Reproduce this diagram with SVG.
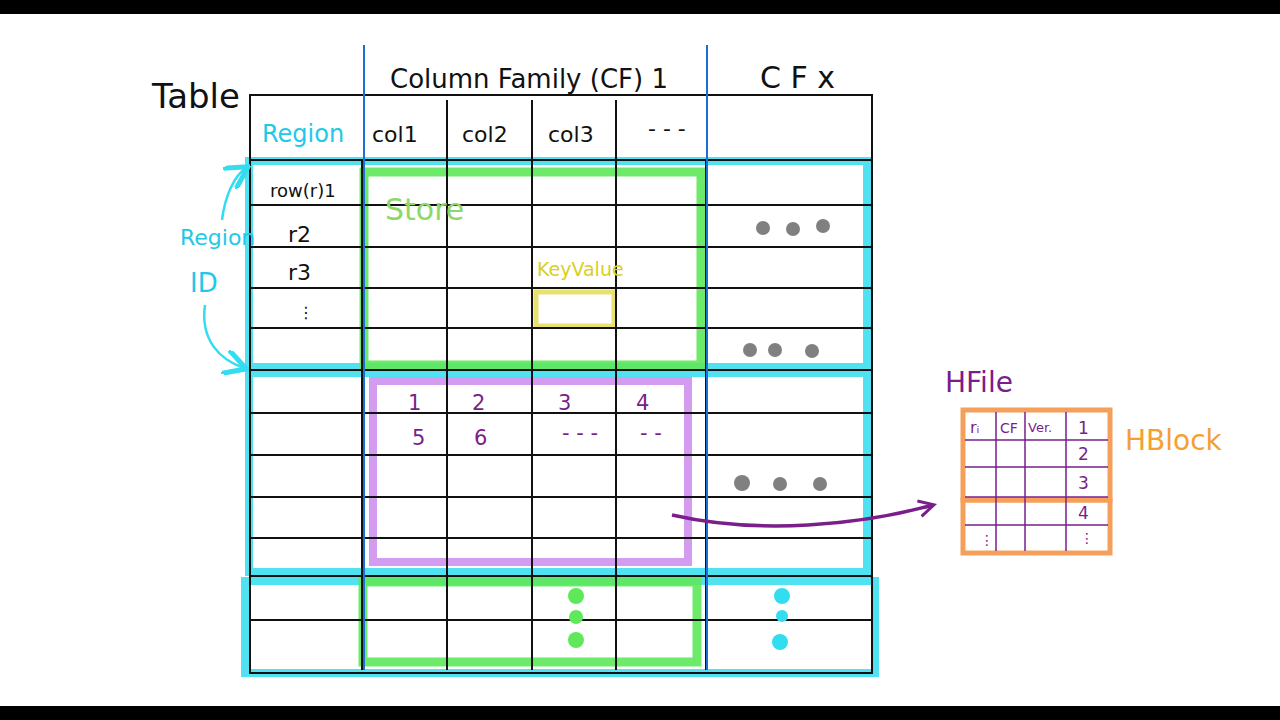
<svg xmlns="http://www.w3.org/2000/svg" width="1280" height="720" viewBox="0 0 1280 720">
<style>
text{font-family:"DejaVu Sans","Liberation Sans",sans-serif}
.k{fill:#111;font-size:22px}
.l{stroke:#111;stroke-width:2;fill:none}
.cy{fill:none;stroke:#33ddf0;stroke-width:8;opacity:.85}
.gr{fill:none;stroke:#5ee85a;stroke-width:9;opacity:.9}
.pu{fill:#7a1f8a;font-size:21px}
.gd{fill:#808080}
.hl{stroke:#7a1f8a;stroke-width:1.5}
</style>
<defs><marker id="ap" markerUnits="userSpaceOnUse" markerWidth="20" markerHeight="20" refX="16" refY="10" orient="auto"><path d="M2,2 L17,10 L2,18" fill="none" stroke="#7a1f8a" stroke-width="3"/></marker>
<marker id="ac" markerWidth="10" markerHeight="10" refX="8" refY="5" orient="auto"><path d="M0,0 L9,5 L0,10" fill="none" stroke="#33ddf0" stroke-width="2"/></marker></defs>
<rect width="1280" height="720" fill="#fff"/>
<rect width="1280" height="14" fill="#000"/>
<rect y="706" width="1280" height="14" fill="#000"/>
<g id="highlights">
<rect class="cy" x="249" y="161" width="618" height="206"/>
<rect class="cy" x="249" y="373" width="618" height="199"/>
<rect class="cy" x="245" y="581" width="630" height="92"/>
<rect class="gr" x="364" y="172" width="337" height="193"/>
<rect class="gr" x="363" y="582" width="334" height="80"/>
<rect x="373" y="381" width="315" height="181" fill="none" stroke="#d49cf0" stroke-width="8"/>
<rect x="536" y="292" width="78" height="34" fill="none" stroke="#e8e070" stroke-width="5"/>
</g>
<g id="table">
<rect class="l" x="250" y="95" width="622" height="578"/>
<path class="l" d="M447,100V670 M532,100V670 M616,100V670 M362,160V670 M706,160V670"/>
<path class="l" d="M250,160H872 M250,205H872 M250,247H872 M250,288H872 M250,328H872 M250,370H872 M250,413H872 M250,455H872 M250,497H872 M250,538H872 M250,576H872 M250,620H872"/>
<path d="M364,45V670 M707,45V670" stroke="#1a6fd8" stroke-width="2"/>
</g>
<g id="labels">
<text x="152" y="108" class="k" style="font-size:34px">Table</text>
<text x="390" y="88" class="k" style="font-size:26px">Column Family (CF) 1</text>
<text x="760" y="88" class="k" style="font-size:30px">C F x</text>
<text x="262" y="142" fill="#22c8e8" font-size="24">Region</text>
<text x="372" y="142" class="k">col1</text>
<text x="462" y="142" class="k">col2</text>
<text x="548" y="142" class="k">col3</text>
<text x="648" y="136" class="k">- - -</text>
<text x="270" y="197" class="k" style="font-size:18px">row(r)1</text>
<text x="288" y="242" class="k">r2</text>
<text x="288" y="280" class="k">r3</text>
<text x="298" y="318" class="k" style="font-size:16px">⋮</text>
<text x="385" y="220" fill="#8ed86a" font-size="30">Store</text>
<text x="537" y="276" fill="#d8d020" font-size="19">KeyValue</text>
<text x="180" y="245" fill="#22c8e8" font-size="22">Region</text>
<text x="190" y="292" fill="#22c8e8" font-size="26">ID</text>
</g>
<g id="dots">
<circle class="gd" cx="763" cy="228" r="7"/><circle class="gd" cx="793" cy="229" r="7"/><circle class="gd" cx="823" cy="226" r="7"/>
<circle class="gd" cx="750" cy="350" r="7"/><circle class="gd" cx="775" cy="350" r="7"/><circle class="gd" cx="812" cy="351" r="7"/>
<circle class="gd" cx="742" cy="483" r="8"/><circle class="gd" cx="780" cy="484" r="7"/><circle class="gd" cx="820" cy="484" r="7"/>
<g fill="#5ee85a"><circle cx="576" cy="596" r="8"/><circle cx="576" cy="617" r="7"/><circle cx="576" cy="640" r="8"/></g>
<g fill="#33ddf0"><circle cx="782" cy="596" r="8"/><circle cx="782" cy="616" r="6"/><circle cx="780" cy="642" r="8"/></g>
</g>
<g id="blocknums">
<text class="pu" x="408" y="410">1</text><text class="pu" x="472" y="410">2</text><text class="pu" x="558" y="410">3</text><text class="pu" x="636" y="410">4</text>
<text class="pu" x="412" y="445">5</text><text class="pu" x="474" y="445">6</text><text class="pu" x="562" y="440">- - -</text><text class="pu" x="640" y="440">- -</text>
</g>
<g id="hfile">
<text x="945" y="392" fill="#7a1f8a" font-size="28">HFile</text>
<rect x="963" y="410" width="147" height="90" fill="none" stroke="#f5a05a" stroke-width="5"/>
<rect x="963" y="500" width="147" height="53" fill="none" stroke="#f5a05a" stroke-width="5"/>
<path class="hl" d="M996,412V551 M1025,412V551 M1066,412V551 M965,440H1108 M965,467H1108 M965,497H1108 M965,525H1108"/>
<text x="970" y="433" fill="#7a1f8a" font-size="16">rᵢ</text>
<text x="1000" y="433" fill="#7a1f8a" font-size="14">CF</text>
<text x="1028" y="432" fill="#7a1f8a" font-size="13">Ver.</text>
<text class="pu" x="1078" y="434" style="font-size:17px">1</text>
<text class="pu" x="1078" y="460" style="font-size:17px">2</text>
<text class="pu" x="1078" y="489" style="font-size:17px">3</text>
<text class="pu" x="1078" y="519" style="font-size:17px">4</text>
<text class="pu" x="1080" y="543" style="font-size:14px">⋮</text>
<text class="pu" x="980" y="545" style="font-size:14px">⋮</text>
<text x="1125" y="450" fill="#f5a030" font-size="28">HBlock</text>
</g>
<g id="connectors">
<path d="M672,515 C760,535 860,525 933,505" fill="none" stroke="#7a1f8a" stroke-width="3.5" marker-end="url(#ap)"/>
<path d="M222,220 C225,195 235,175 246,168" fill="none" stroke="#33ddf0" stroke-width="2.5" marker-end="url(#ac)"/>
<path d="M205,305 C200,340 220,360 244,368" fill="none" stroke="#33ddf0" stroke-width="2.5" marker-end="url(#ac)"/>
</g>
</svg>
